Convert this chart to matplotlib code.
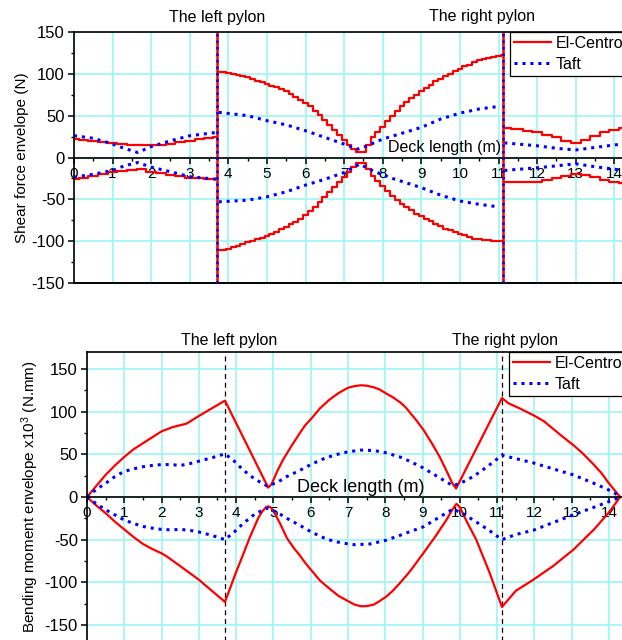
import matplotlib
matplotlib.use("Agg")
import matplotlib.pyplot as plt
from matplotlib.ticker import MultipleLocator
import matplotlib.transforms as mtransforms

plt.rcParams['font.family'] = ['Liberation Sans', 'DejaVu Sans']
plt.rcParams['mathtext.default'] = 'regular'
plt.rcParams['axes.unicode_minus'] = False

# pylon positions along the deck (m)
pylon_x = [3.7, 11.12]

# ---- shear force envelopes (N), one list per span ----
# left span
sl_x = [0.0, 0.25, 0.5, 0.75, 1.0, 1.25, 1.5, 1.75, 2.0, 2.25, 2.5, 2.75, 3.0, 3.25, 3.5, 3.7]
sl_el_max = [22, 21, 20, 18.5, 17.5, 16.5, 15.5, 15, 15, 15.5, 16.5, 18, 20, 22, 23.5, 24]
sl_el_min = [-25.5, -24, -22, -20, -17.5, -16.5, -15.5, -14, -17, -18.5, -21, -22.5, -24, -25, -25.5, -26]
sl_taft_x = [0.0, 0.5, 1.0, 1.3, 1.65, 2.0, 2.5, 3.0, 3.7]
sl_taft_max = [26, 23, 16, 11, 6, 13, 20, 26, 30]
sl_taft_min = [-23.5, -20, -15.5, -10, -6, -11.5, -17, -23, -26]

# middle span
sm_x = [3.75, 3.875, 4.0, 4.125, 4.25, 4.375, 4.5, 4.625,
        4.75, 4.875, 5.0, 5.125, 5.25, 5.375, 5.5, 5.625,
        5.75, 5.875, 6.0, 6.125, 6.25, 6.375, 6.5, 6.625,
        6.75, 6.875, 7.0, 7.125, 7.25, 7.375, 7.5, 7.625,
        7.75, 7.875, 8.0, 8.125, 8.25, 8.375, 8.5, 8.625,
        8.75, 8.875, 9.0, 9.125, 9.25, 9.375, 9.5, 9.625,
        9.75, 9.875, 10.0, 10.125, 10.25, 10.375, 10.5, 10.625,
        10.75, 10.875, 11.0, 11.12]
sm_el_max = [102, 102, 101, 100, 99, 98, 96, 94,
             92, 90, 88, 86, 84, 82, 79, 76,
             72, 69, 65, 61, 56, 51, 45, 39,
             33, 27, 21, 15, 10, 6, 6, 15,
             24, 31, 37, 44, 50, 56, 61, 66,
             71, 75, 79, 83, 87, 91, 94, 97,
             100, 103, 106, 109, 111, 114, 116, 118,
             119, 120, 121, 122]
sm_el_min = [-110, -110, -109, -107.5, -106, -103, -101, -99.5,
             -98, -96, -94, -91.5, -89, -86, -83, -80,
             -77, -73, -69, -64, -59, -53, -47, -41,
             -35, -29, -23, -17, -11, -6, -6, -14,
             -22, -28, -34, -40, -46, -51, -55, -59,
             -63, -67, -70, -73, -76, -79, -82, -85,
             -87, -89, -91, -93, -95, -97, -98, -98.5,
             -99, -99.5, -100, -100]
sm_taft_x = [3.75, 4.5, 5.0, 5.5, 6.0, 6.5, 7.0, 7.35, 7.6, 8.0, 8.5, 9.0, 9.5, 10.0, 10.5, 11.0]
sm_taft_max = [54, 50, 44, 39, 32, 24, 16, 10, 14, 22, 29, 36, 46, 53, 58, 61]
sm_taft_x2 = [3.75, 4.5, 5.0, 5.5, 6.0, 6.5, 7.0, 7.4, 7.8, 8.25, 9.0, 9.5, 10.0, 10.5, 11.0]
sm_taft_min = [-53, -51, -47, -41, -33, -26, -18, -8, -17, -25, -36, -45, -52, -56, -59]

# right span
sr_x = [11.15, 11.5, 11.75, 12.0, 12.25, 12.5, 12.75, 13.0, 13.25, 13.5, 13.75, 14.0, 14.25]
sr_el_max = [35.5, 34, 32, 30, 27, 24, 20, 17, 21, 26, 30, 33, 35.5]
sr_el_min = [-29.5, -29.5, -29, -28.7, -26.5, -24, -22, -19.5, -21, -23.5, -26.5, -29, -31]
sr_taft_x = [11.15, 12.0, 12.5, 13.0, 13.5, 14.0, 14.25]
sr_taft_max = [17.5, 14, 11, 9, 12, 15, 16]
sr_taft_min = [-15.5, -12.3, -10, -7.5, -11, -14, -15.5]

# ---- bending moment envelopes (x10^3 N.mm) ----
bm_el_x_max = [0, 0.25, 0.5, 0.75, 1.0, 1.25, 1.5, 1.75, 2.0, 2.3, 2.67, 3.0, 3.7,
               4.86, 4.95, 5.1, 5.25, 5.36, 5.5, 5.71, 5.85, 6.0, 6.25, 6.5, 6.75, 7.0,
               7.17, 7.34, 7.5, 7.7, 7.85, 8.0, 8.2, 8.4, 8.55, 8.7, 8.85, 9.02, 9.25,
               9.46, 9.65, 9.8, 9.9, 11.13, 11.3, 11.6, 11.97, 12.25, 12.5, 12.75, 13.04,
               13.3, 13.57, 13.8, 14.0, 14.3]
bm_el_max = [0, 13, 26, 37, 47, 56, 63, 70, 77, 82, 86, 95, 113,
             11, 15, 30, 43, 51, 61, 75, 84, 91, 104, 114, 122, 128,
             130, 131, 130.5, 128.5, 126, 122, 117, 111, 105, 97, 89, 79, 63,
             47, 30, 16, 10, 116, 110, 104, 96, 89, 80, 71, 61,
             51, 39, 28, 16, 0]
bm_el_x_min = [0, 0.25, 0.5, 0.75, 1.0, 1.25, 1.5, 1.75, 2.0, 2.15, 2.5, 3.0, 3.7,
               4.0, 4.2, 4.37, 4.5, 4.6, 4.7, 4.8, 4.86, 4.92, 5.0, 5.2, 5.36, 5.55,
               5.7, 5.85, 6.0, 6.25, 6.52, 6.75, 7.0, 7.17, 7.34, 7.5, 7.7, 7.85, 8.02,
               8.2, 8.39, 8.55, 8.7, 8.85, 9.02, 9.2, 9.35, 9.5, 9.64, 9.78, 9.91, 10.0,
               10.2, 10.44, 10.8, 11.13, 11.5, 11.97, 12.5, 13.04, 13.6, 14.0, 14.3]
bm_el_min = [0, -10, -19, -29, -38, -47, -55, -61, -66, -70, -81, -97, -123,
             -88, -66, -47, -34, -24, -17, -12, -11, -12, -16, -33, -48, -60,
             -68, -77, -85, -98, -108, -116, -122, -126, -128, -128, -126, -122, -117,
             -110, -101, -93, -85, -76, -66, -55, -46, -36, -27, -16, -8, -12,
             -30, -50, -89, -129, -110, -97, -81, -62, -38, -18, 0]
bm_taft_x_max = [0, 0.25, 0.5, 0.75, 1.0, 1.25, 1.5, 1.75, 2.0, 2.25, 2.5, 2.75, 3.0,
                 3.35, 3.7, 3.95, 4.19, 4.5, 4.83, 5.1, 5.36, 5.7, 6.0, 6.3, 6.62, 7.0,
                 7.34, 7.7, 8.0, 8.39, 8.7, 9.02, 9.4, 9.82, 10.1, 10.36, 10.75, 11.13,
                 11.5, 11.97, 12.5, 13.04, 13.6, 14.11, 14.3]
bm_taft_max = [0, 9, 16, 24, 30, 33, 35.5, 37, 38, 38, 37, 39, 42,
               46, 50.6, 42, 31.6, 21, 13, 17, 24, 31, 38, 44, 49, 53,
               55, 54.5, 52, 47, 41, 34, 24, 13, 18, 24, 36, 49,
               45, 40, 33, 26, 16, 6, 0]
bm_taft_x_min = [0, 0.25, 0.5, 0.75, 1.0, 1.25, 1.5, 1.75, 2.0, 2.25, 2.5, 2.75, 3.0,
                 3.35, 3.7, 3.95, 4.19, 4.5, 4.83, 5.1, 5.36, 5.7, 6.0, 6.3, 6.62, 7.0,
                 7.2, 7.6, 8.0, 8.39, 8.7, 9.02, 9.4, 9.82, 10.1, 10.36, 10.75, 11.13,
                 11.5, 11.97, 12.5, 13.04, 13.6, 14.11, 14.3]
bm_taft_min = [0, -8, -15, -21, -27, -31, -34.5, -36.5, -38, -38.5, -38, -39, -41,
               -45, -50, -41, -31, -20, -13, -18, -25, -33, -40.6, -47, -52, -55,
               -56, -55, -51, -45, -40, -35, -25, -14, -20, -27, -38, -50,
               -44, -39, -30, -21, -12, -3.5, 0]

red = '#ff0000'
blue = '#0000ff'
grid_c = '#a4f6f6'
dots = (0, (1, 1.6))

fig = plt.figure(figsize=(6.22, 6.40), dpi=100)
ax1 = fig.add_axes([74 / 622, 1 - 283 / 640, 548 / 622, 251 / 640])
ax2 = fig.add_axes([87 / 622, 1 - 642 / 640, 535 / 622, 290 / 640])


def style_axes(ax, ylim, xlim):
    ax.set_xlim(*xlim)
    ax.set_ylim(*ylim)
    ax.grid(True, which='major', color=grid_c, lw=1.3)
    ax.set_axisbelow(True)
    ax.spines['right'].set_visible(False)
    ax.spines['bottom'].set_position(('data', 0))
    for s in ('left', 'top', 'bottom'):
        ax.spines[s].set_linewidth(1.2)
    ax.xaxis.set_major_locator(MultipleLocator(1))
    ax.xaxis.set_minor_locator(MultipleLocator(0.5))
    ax.yaxis.set_major_locator(MultipleLocator(50))
    ax.yaxis.set_minor_locator(MultipleLocator(25))
    ax.tick_params(which='major', direction='out', length=4.5, width=1.1, pad=2)
    ax.tick_params(which='minor', direction='out', length=2.5, width=1)
    ax.tick_params(axis='x', labelsize=11)
    ax.tick_params(axis='y', labelsize=12)
    for x in pylon_x:
        ax.axvline(x, color='k', ls=(0, (4, 3)), lw=0.9, zorder=1.5)


def add_legend(ax, x0):
    ax.plot([], [], color=red, lw=1.6, label='El-Centro')
    ax.plot([], [], color=blue, lw=2.2, ls=dots, label='Taft')
    leg = ax.legend(loc='upper left', bbox_to_anchor=(x0, 1.0), fontsize=11.5, handlelength=2.3,
                    fancybox=False, edgecolor='k', framealpha=1, borderaxespad=0,
                    borderpad=0.25, labelspacing=0.35, handletextpad=0.3)
    leg.get_frame().set_linewidth(0.9)


# shear force
style_axes(ax1, (-150, 150), (0, 14.2))
ax1.axhline(-150, color='k', lw=1.4, clip_on=False)
for xs, hi, lo in [(sl_x, sl_el_max, sl_el_min), (sm_x, sm_el_max, sm_el_min),
                   (sr_x, sr_el_max, sr_el_min)]:
    ax1.plot(xs, hi, color=red, lw=1.6, drawstyle='steps-mid')
    ax1.plot(xs, lo, color=red, lw=1.6, drawstyle='steps-mid')
for xs, ys in [(sl_taft_x, sl_taft_max), (sl_taft_x, sl_taft_min), (sm_taft_x, sm_taft_max),
               (sm_taft_x2, sm_taft_min), (sr_taft_x, sr_taft_max), (sr_taft_x, sr_taft_min)]:
    ax1.plot(xs, ys, color=blue, lw=2.2, ls=dots)
# reactions at the pylons run off the scale
for x in pylon_x:
    ax1.axvline(x, color=red, lw=1.8, zorder=2.5)
    ax1.axvline(x, color=blue, lw=1.8, ls=dots, zorder=2.6)
ax1.set_ylabel('Shear force envelope (N)', fontsize=11, labelpad=2)
ax1.text(9.6, 12, 'Deck length (m)', fontsize=11.5, ha='center', va='center')
tr1 = mtransforms.blended_transform_factory(ax1.transData, ax1.transAxes)
ax1.text(3.7, 1.056, 'The left pylon', transform=tr1, ha='center', va='center', fontsize=11.5)
ax1.text(10.57, 1.06, 'The right pylon', transform=tr1, ha='center', va='center', fontsize=11.5)
add_legend(ax1, 0.796)

# bending moment
style_axes(ax2, (-170, 170), (0, 14.35))
ax2.plot(bm_el_x_max, bm_el_max, color=red, lw=1.6)
ax2.plot(bm_el_x_min, bm_el_min, color=red, lw=1.6)
ax2.plot(bm_taft_x_max, bm_taft_max, color=blue, lw=2.2, ls=dots)
ax2.plot(bm_taft_x_min, bm_taft_min, color=blue, lw=2.2, ls=dots)
ax2.set_ylabel('Bending moment envelope x10$^3$ (N.mm)', fontsize=11, labelpad=3)
ax2.text(7.33, 11.5, 'Deck length (m)', fontsize=13, ha='center', va='center')
tr2 = mtransforms.blended_transform_factory(ax2.transData, ax2.transAxes)
ax2.text(3.8, 1.038, 'The left pylon', transform=tr2, ha='center', va='center', fontsize=11.5)
ax2.text(11.2, 1.038, 'The right pylon', transform=tr2, ha='center', va='center', fontsize=11.5)
add_legend(ax2, 0.789)

fig.savefig('out.png', dpi=100)
